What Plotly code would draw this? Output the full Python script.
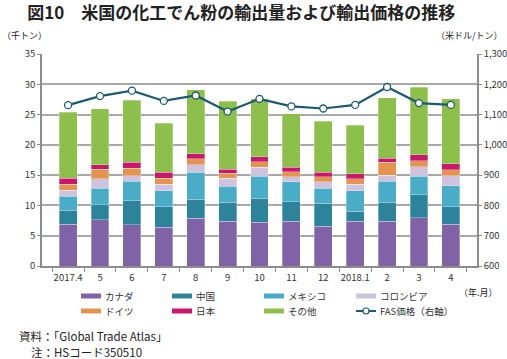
import plotly.graph_objects as go

categories = ["2017.4", "5", "6", "7", "8", "9", "10", "11", "12", "2018.1", "2", "3", "4"]
canada   = [6.9, 7.65, 6.8, 6.4, 7.9, 7.4, 7.2, 7.4, 6.6, 7.4, 7.4, 8.0, 6.9]
china    = [2.3, 2.45, 4.05, 3.35, 3.15, 3.1, 4.0, 3.2, 3.75, 1.6, 3.1, 3.8, 2.85]
mexico   = [2.3, 2.7, 3.15, 2.7, 4.4, 2.7, 3.6, 3.3, 2.45, 3.4, 3.5, 3.0, 3.5]
colombia = [1.0, 1.6, 0.9, 1.05, 1.25, 1.3, 1.5, 0.85, 1.1, 1.1, 1.0, 1.6, 1.65]
germany  = [1.0, 1.6, 1.2, 1.0, 1.0, 0.8, 0.9, 0.85, 0.85, 0.9, 2.1, 1.0, 1.0]
japan    = [1.0, 0.7, 1.0, 1.0, 0.8, 0.7, 0.8, 0.7, 0.75, 0.85, 0.7, 1.0, 1.0]
other    = [10.9, 9.3, 10.3, 8.1, 10.6, 11.2, 9.6, 8.85, 8.4, 7.95, 10.0, 11.15, 10.7]
fas_price = [1131, 1161, 1179, 1145, 1163, 1110, 1152, 1127, 1120, 1132, 1191, 1138, 1132]

series_names = ["カナダ", "中国", "メキシコ", "コロンビア", "ドイツ", "日本", "その他"]
series_values = [canada, china, mexico, colombia, germany, japan, other]
series_colors = ["#8062a7", "#2b849c", "#49adc8", "#cfc2de", "#e3944f", "#c8176c", "#8dbf4b"]
line_name = "FAS価格（右軸）"
line_color = "#1c5a72"

FONT = "Noto Sans CJK JP, Noto Sans, sans-serif"
W, H = 507, 359
plot_l, plot_r, plot_t, plot_b = 42, W - 30, 54, H - 93


def px(x):
    return (x - plot_l) / (plot_r - plot_l)


def py(y):
    return (plot_b - y) / (plot_b - plot_t)


fig = go.Figure()
for name, vals, col in zip(series_names, series_values, series_colors):
    fig.add_trace(go.Bar(
        x=categories, y=vals, name=name,
        marker=dict(color=col, line=dict(color="rgba(255,255,255,0.5)", width=0.6)),
        showlegend=False, width=0.56,
    ))

fig.add_trace(go.Scatter(
    x=categories, y=fas_price, name=line_name, yaxis="y2",
    mode="lines+markers", showlegend=False,
    line=dict(color=line_color, width=2.2),
    marker=dict(symbol="circle", size=7, color="white", line=dict(color=line_color, width=1.3)),
))

axis_col = "#8c8c8c"
fig.update_layout(
    width=W, height=H,
    margin=dict(l=plot_l, r=W - plot_r, t=plot_t, b=H - plot_b),
    paper_bgcolor="white", plot_bgcolor="white",
    barmode="stack",
    font=dict(family=FONT, size=9, color="#333333"),
    showlegend=False,
    xaxis=dict(
        type="category", showline=True, linecolor=axis_col, linewidth=1.5,
        ticks="outside", tickson="boundaries", ticklen=4, tickcolor=axis_col, tickwidth=1,
        tickangle=0, tickfont=dict(size=9.5, color="#333333"), showgrid=False,
        automargin=False, ticklabelstandoff=2,
    ),
    yaxis=dict(
        range=[0, 35], dtick=5, showline=True, linecolor=axis_col, linewidth=1.5,
        ticks="outside", ticklen=3, tickcolor=axis_col,
        showgrid=True, gridcolor="#a8a8a8", gridwidth=1.5, zeroline=False,
        tickfont=dict(size=9.5, color="#333333"), automargin=False,
    ),
    yaxis2=dict(
        range=[600, 1300], dtick=100, overlaying="y", side="right",
        showline=True, linecolor=axis_col, linewidth=1.5,
        ticks="outside", ticklen=3, tickcolor=axis_col, tickformat=",",
        showgrid=False, zeroline=False,
        tickfont=dict(size=9.5, color="#333333"), automargin=False,
    ),
    title=dict(
        text="<b>図10　米国の化工でん粉の輸出量および輸出価格の推移</b>",
        x=0.476, xanchor="center", y=0.965, yanchor="middle",
        font=dict(size=17, color="#222222", family=FONT),
    ),
)

texts = [
    ("（千トン）", 0, 35, "left", 9),
    ("（米ドル/トン）", 505, 35, "right", 9),
    ("（年.月）", 500, 292, "right", 9),
    ("資料：「Global Trade Atlas」", 17, 336, "left", 11.5),
    ("注：HSコード350510", 29, 352, "left", 11.5),
]
for t, x, y, anc, size in texts:
    fig.add_annotation(
        text=t, x=px(x), y=py(y), xref="paper", yref="paper",
        xanchor=anc, yanchor="middle", showarrow=False,
        font=dict(size=size, color="#222222", family=FONT),
    )

col_x = [81, 172, 264, 356]
row_y = [296, 311]
entries = [(n, c, "bar") for n, c in zip(series_names, series_colors)] + [(line_name, line_color, "line")]
for i, (name, col, kind) in enumerate(entries):
    cx = col_x[i % 4]
    ry = row_y[i // 4]
    if kind == "bar":
        fig.add_shape(type="rect", xref="paper", yref="paper",
                      x0=px(cx), x1=px(cx + 20), y0=py(ry - 2.5), y1=py(ry + 2.5),
                      fillcolor=col, line=dict(width=0))
    else:
        fig.add_shape(type="line", xref="paper", yref="paper",
                      x0=px(cx), x1=px(cx + 20), y0=py(ry), y1=py(ry),
                      line=dict(color=col, width=2))
        fig.add_shape(type="circle", xref="paper", yref="paper",
                      x0=px(cx + 7), x1=px(cx + 13), y0=py(ry - 3), y1=py(ry + 3),
                      fillcolor="white", line=dict(color=col, width=1.2))
    fig.add_annotation(
        text=name, x=px(cx + 22), y=py(ry), xref="paper", yref="paper",
        xanchor="left", yanchor="middle", showarrow=False,
        font=dict(size=9.5, color="#333333", family=FONT),
    )

fig.write_html("out.html", config={"displayModeBar": False},
               post_script="document.body.style.margin='0px';")
